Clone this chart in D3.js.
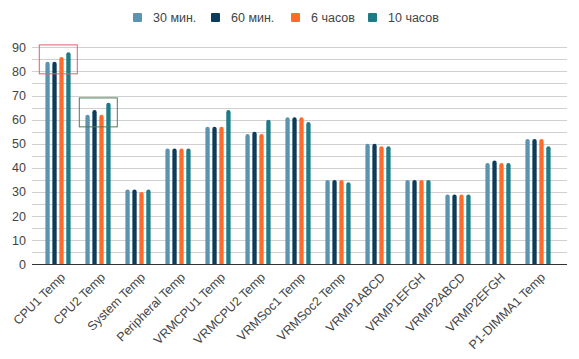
<!DOCTYPE html>
<html><head><meta charset="utf-8">
<script src="https://cdn.jsdelivr.net/npm/d3@7"></script>
<style>
body{margin:0;background:#fff;}
text{font-family:"Liberation Sans",Arial,sans-serif;fill:#444;}
</style></head>
<body><svg id="c" width="579" height="359"></svg>
<script>
const categories = ["CPU1 Temp","CPU2 Temp","System Temp","Peripheral Temp","VRMCPU1 Temp","VRMCPU2 Temp","VRMSoc1 Temp","VRMSoc2 Temp","VRMP1ABCD","VRMP1EFGH","VRMP2ABCD","VRMP2EFGH","P1-DIMMA1 Temp"];
const seriesNames = ["30 мин.","60 мин.","6 часов","10 часов"];
const s30min = [84,62,31,48,57,54,61,35,50,35,29,42,52];
const s60min = [84,64,31,48,57,55,61,35,50,35,29,43,52];
const s6h    = [86,62,30,48,57,54,61,35,49,35,29,42,52];
const s10h   = [88,67,31,48,64,60,59,34,49,35,29,42,49];
const yTicks = [0,10,20,30,40,50,60,70,80,90];
const colors = ["#5b93b0","#0c3c5b","#ff6b2b","#1e7b86"];
const series = [s30min,s60min,s6h,s10h];

const svg = d3.select("#c");
const x0 = d3.scaleBand().domain(categories).range([38,558]).padding(0);
const x1 = d3.scaleBand().domain(seriesNames).range([-12.6,12.6]).paddingInner(0.38).paddingOuter(0);
const y = d3.scaleLinear().domain([0,90]).range([264.3,47.3]);

// gridlines every 5
const grid = d3.range(5,95,5);
svg.append("g").selectAll("line").data(grid).join("line")
  .attr("x1",32).attr("x2",567)
  .attr("y1",d=>Math.round(y(d))+0.5).attr("y2",d=>Math.round(y(d))+0.5)
  .attr("stroke","#d0d0d0").attr("stroke-width",1);

// y axis labels
const yAxis = d3.axisLeft(y).tickValues(yTicks).tickSize(0).tickPadding(0);
const ga = svg.append("g").attr("transform","translate(26,0)").call(yAxis);
ga.select(".domain").remove();
ga.selectAll("text").attr("font-size",12.5).attr("fill","#444").style("font-family","'Liberation Sans',Arial,sans-serif");

// bars
const bw = x1.bandwidth();
series.forEach((vals,si)=>{
  svg.append("g").selectAll("path").data(vals).join("path")
    .attr("fill",colors[si])
    .attr("d",(v,i)=>{
      const cx = x0(categories[i]) + x0.bandwidth()/2 + x1(seriesNames[si]);
      const top = y(v), bot = y(0), r = bw/2;
      return `M${cx},${bot}L${cx},${top+r}A${r},${r} 0 0 1 ${cx+bw},${top+r}L${cx+bw},${bot}Z`;
    });
});

// baseline
svg.append("line").attr("x1",32).attr("x2",567).attr("y1",264.5).attr("y2",264.5)
  .attr("stroke","#333").attr("stroke-width",1.2);

// x labels
const xAxis = d3.axisBottom(x0).tickSize(0).tickPadding(0);
const gx = svg.append("g").attr("transform","translate(0,264)").call(xAxis);
gx.select(".domain").remove();
gx.selectAll("text")
  .attr("font-size",12.5).attr("fill","#444").style("font-family","'Liberation Sans',Arial,sans-serif")
  .attr("text-anchor","end").attr("dy",0).attr("y",0)
  .attr("transform","translate(8,14) rotate(-45)");

// highlight rects
const hl = [{cat:"CPU1 Temp",lo:79,hi:91,color:"#e06070"},{cat:"CPU2 Temp",lo:57,hi:69,color:"#4e7d55"}];
svg.append("g").selectAll("rect").data(hl).join("rect")
  .attr("x",d=>x0(d.cat)+1.3).attr("width",x0.bandwidth()-2)
  .attr("y",d=>y(d.hi)).attr("height",d=>y(d.lo)-y(d.hi))
  .attr("fill","none").attr("stroke",d=>d.color).attr("stroke-width",1);

// legend
const legX = [133,211,291,368];
const lg = svg.append("g").selectAll("g").data(seriesNames).join("g")
  .attr("transform",(d,i)=>`translate(${legX[i]},13)`);
lg.append("rect").attr("width",9).attr("height",9).attr("rx",1).attr("fill",(d,i)=>colors[i]);
lg.append("text").attr("x",20).attr("y",9).attr("font-size",12.5).text(d=>d);
</script></body></html>
